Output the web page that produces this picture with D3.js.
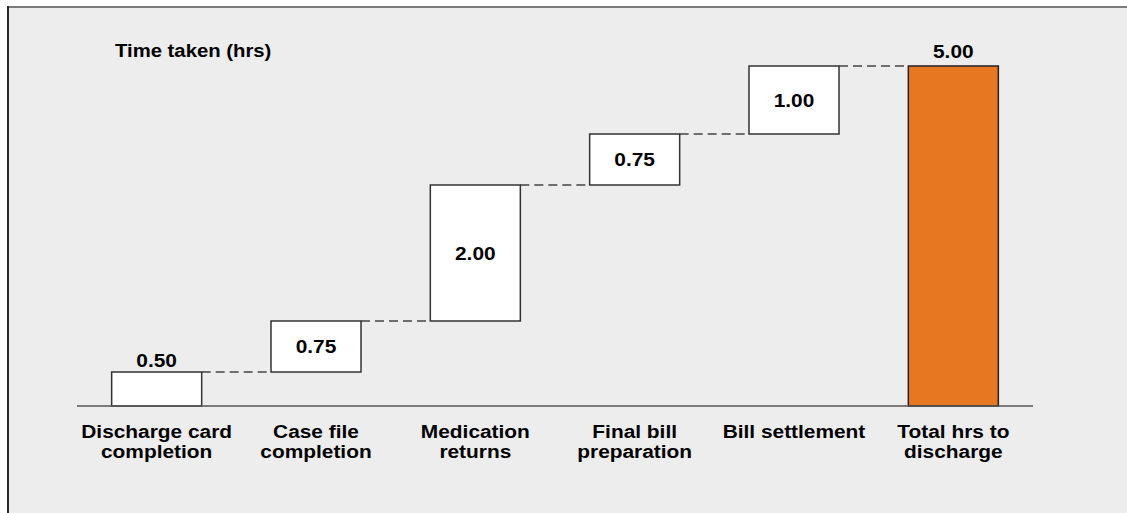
<!DOCTYPE html>
<html>
<head>
<meta charset="utf-8">
<script src="https://cdn.jsdelivr.net/npm/d3@7"></script>
<style>
  html, body { margin: 0; padding: 0; background: #ffffff; }
  svg { display: block; }
  text { font-family: "Liberation Sans", Arial, sans-serif; font-weight: bold; fill: #000; }
</style>
</head>
<body>
<svg id="chart" width="1127" height="513"></svg>
<script>
// Steps of the discharge process and the hours each one takes
const categories = [
  ["Discharge card", "completion"],
  ["Case file", "completion"],
  ["Medication", "returns"],
  ["Final bill", "preparation"],
  ["Bill settlement"],
  ["Total hrs to", "discharge"]
];
const stepHours = [0.50, 0.75, 2.00, 0.75, 1.00];
const totalHours = 5.00;
const valueLabels = ["0.50", "0.75", "2.00", "0.75", "1.00", "5.00"];
const yTitle = "Time taken (hrs)";

const W = 1127, H = 513;
const svg = d3.select("#chart");
const stretch = 1.16; // wide letterforms

// panel background and frame
svg.append("rect").attr("x", 8).attr("y", 7).attr("width", W - 8).attr("height", H - 7).attr("fill", "#ededed");
svg.append("line").attr("x1", 8).attr("x2", W).attr("y1", 7).attr("y2", 7).attr("stroke", "#7a7a7a").attr("stroke-width", 2);
svg.append("line").attr("x1", 8).attr("x2", 8).attr("y1", 6).attr("y2", H).attr("stroke", "#2a2a2a").attr("stroke-width", 2);

// build waterfall segments
const segs = [];
let run = 0;
stepHours.forEach((v, i) => {
  segs.push({ i, start: run, end: run + v, total: false });
  run += v;
});
segs.push({ i: stepHours.length, start: 0, end: totalHours, total: true });

const x = d3.scaleBand()
  .domain(d3.range(categories.length))
  .range([77, 1033])
  .paddingInner(0.435)
  .paddingOuter(0.2175);

const y = d3.scaleLinear().domain([0, 5]).range([406, 66]);

// dashed connectors between consecutive bars
const g = svg.append("g");
segs.slice(0, -1).forEach((s, k) => {
  const nxt = segs[k + 1];
  g.append("line")
    .attr("x1", x(s.i) + x.bandwidth())
    .attr("x2", x(nxt.i))
    .attr("y1", y(s.end))
    .attr("y2", y(s.end))
    .attr("stroke", "#444")
    .attr("stroke-width", 1.4)
    .attr("stroke-dasharray", "9,5");
});

// bars
g.selectAll("rect.bar")
  .data(segs)
  .join("rect")
  .attr("class", "bar")
  .attr("x", d => x(d.i))
  .attr("width", x.bandwidth())
  .attr("y", d => y(d.end))
  .attr("height", d => y(d.start) - y(d.end))
  .attr("fill", d => d.total ? "#e87722" : "#ffffff")
  .attr("stroke", d => d.total ? "#222" : "#333")
  .attr("stroke-width", 1.5);

// baseline
svg.append("line")
  .attr("x1", 77).attr("x2", 1033)
  .attr("y1", y(0)).attr("y2", y(0))
  .attr("stroke", "#555").attr("stroke-width", 1.5);

// helper: horizontally stretched text
function sText(parent, tx, ty, str, size, anchor) {
  parent.append("g")
    .attr("transform", `translate(${tx},${ty}) scale(${stretch},1)`)
    .append("text")
    .attr("text-anchor", anchor || "middle")
    .attr("font-size", size)
    .text(str);
}

// value labels: inside the step bars, above the short first bar and the total bar
segs.forEach((d, k) => {
  const cx = x(d.i) + x.bandwidth() / 2;
  if (k === 0 || d.total) {
    sText(svg, cx, y(d.end) - (d.total ? 8 : 5), valueLabels[k], 18);
  } else {
    const cy = (y(d.start) + y(d.end)) / 2 + 6.5;
    sText(svg, cx, cy, valueLabels[k], 18);
  }
});

// category labels
categories.forEach((lines, i) => {
  const cx = x(i) + x.bandwidth() / 2;
  lines.forEach((ln, j) => sText(svg, cx, 438 + j * 20, ln, 18));
});

// axis title
sText(svg, 115, 57, yTitle, 17.5, "start");
</script>
</body>
</html>
